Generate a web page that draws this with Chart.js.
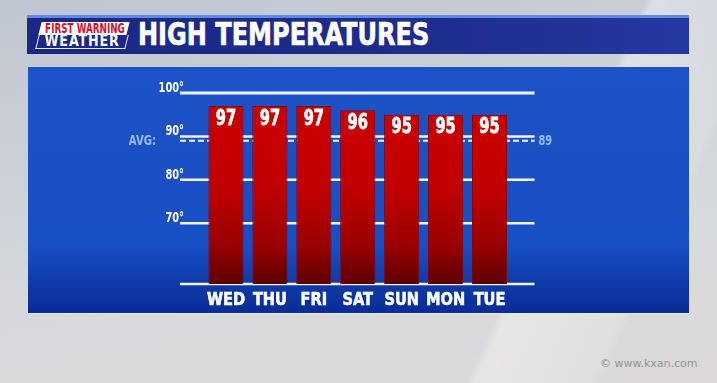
<!DOCTYPE html>
<html>
<head>
<meta charset="utf-8">
<script src="https://cdn.jsdelivr.net/npm/chart.js@4.4.0/dist/chart.umd.min.js"></script>
<style>
  html, body { margin: 0; padding: 0; }
  body {
    width: 717px; height: 383px; overflow: hidden; position: relative;
    background: linear-gradient(170deg, #bfc6d0 0%, #cdd1d7 35%, #d9dadd 70%, #dcd8d8 100%);
    font-family: "DejaVu Sans Condensed", "DejaVu Sans", sans-serif;
  }
  .sheen {
    position: absolute; left: 0; top: 0; width: 717px; height: 383px;
    background: linear-gradient(115deg, rgba(255,255,255,0) 72%, rgba(255,255,255,0.35) 73%, rgba(255,255,255,0.15) 86%, rgba(255,255,255,0) 87%);
  }
  .titlebar {
    position: absolute; left: 27px; top: 15px; width: 662px; height: 36px;
    background: linear-gradient(90deg, #1a2784 0%, #1d2c8e 60%, #2438a2 100%);
    border-top: 3px solid #5c8ae4;
  }
  .title {
    position: absolute; left: 138px; top: 16px; color: #fff; white-space: nowrap;
    font-weight: bold; font-size: 32px; line-height: 36px;
    -webkit-text-stroke: 0.6px #fff;
    transform: scaleX(0.835); transform-origin: left center;
  }
  .logo1 {
    position: absolute; left: 40px; top: 22px; width: 88px; height: 13px;
    background: #fff; transform: skewX(-14deg);
  }
  .logo1 span, .logo2 span {
    position: absolute; left: 0; top: 0; white-space: nowrap; font-weight: bold;
    transform-origin: left top;
  }
  .logo1 span {
    left: 3px; top: -2px; color: #d3122c; font-size: 14px; line-height: 16px;
    transform: skewX(14deg) scaleX(0.7);
  }
  .logo2 {
    position: absolute; left: 37px; top: 35px; width: 88px; height: 13px;
    border: 1px solid #e8ecff; border-top: none; transform: skewX(-14deg);
  }
  .logo2 span {
    left: 4px; top: -3px; color: #fff; font-size: 16px; line-height: 17px; letter-spacing: 1px;
    transform: skewX(14deg) scaleX(0.88);
  }
  .panel {
    position: absolute; left: 28px; top: 67px; width: 661px; height: 246px;
    background: linear-gradient(180deg, #1d53c8 0%, #1b4fc4 55%, #1650c6 72%, #0f3aa8 88%, #0a2b97 100%);
    border-bottom: 1px solid #e9edf5;
  }
  .credit {
    position: absolute; left: 600px; top: 357px; color: #8f949b;
    font-family: "DejaVu Sans", sans-serif; font-size: 11px;
  }
  canvas { position: absolute; left: 0; top: 0; }
</style>
</head>
<body>
<div class="sheen"></div>
<div class="titlebar"></div>
<div class="logo1"><span>FIRST WARNING</span></div>
<div class="logo2"><span>WEATHER</span></div>
<div class="title">HIGH TEMPERATURES</div>
<div class="panel"></div>
<div class="credit">© www.kxan.com</div>
<canvas id="chart" width="717" height="383"></canvas>
<script>
const days = ["WED", "THU", "FRI", "SAT", "SUN", "MON", "TUE"];
const highs = [97, 97, 97, 96, 95, 95, 95];
const gridValues = [100, 90, 80, 70];
const gridLabels = ["100°", "90°", "80°", "70°"];
const average = 89;
const yMin = 56;
const yMax = 100;

const narrow = '"DejaVu Sans Condensed", "DejaVu Sans", sans-serif';

// draw text squeezed horizontally, the broadcast font is much narrower
function squeezed(ctx, text, x, y, sx, heavy) {
  ctx.save();
  ctx.translate(x, y);
  ctx.scale(sx, 1);
  ctx.fillText(text, 0, 0);
  if (heavy) {
    ctx.lineWidth = heavy;
    ctx.strokeStyle = ctx.fillStyle;
    ctx.strokeText(text, 0, 0);
  }
  ctx.restore();
}

// white grid lines, tick labels and the dashed average line, drawn wider than the bar area
const guides = {
  id: "guides",
  beforeDatasetsDraw(chart) {
    const { ctx, chartArea } = chart;
    const y = chart.scales.y;
    const left = chartArea.left - 24;
    const right = chartArea.right + 23;
    ctx.save();
    ctx.strokeStyle = "#f2f5ff";
    gridValues.forEach((v, i) => {
      const py = y.getPixelForValue(v);
      ctx.lineWidth = v === 100 ? 3 : 2.5;
      ctx.beginPath();
      ctx.moveTo(left, py);
      ctx.lineTo(right, py);
      ctx.stroke();
      ctx.fillStyle = "#ffffff";
      ctx.font = "bold 14px " + narrow;
      ctx.textAlign = "right";
      ctx.textBaseline = "alphabetic";
      squeezed(ctx, gridLabels[i], left + 4, py - 1, 0.78);
    });
    // bottom line
    const pb = y.getPixelForValue(yMin);
    ctx.lineWidth = 2.5;
    ctx.beginPath();
    ctx.moveTo(left, pb);
    ctx.lineTo(right, pb);
    ctx.stroke();
    // average
    const pa = y.getPixelForValue(average);
    ctx.setLineDash([6, 3]);
    ctx.lineWidth = 2;
    ctx.beginPath();
    ctx.moveTo(left, pa);
    ctx.lineTo(right, pa);
    ctx.stroke();
    ctx.setLineDash([]);
    ctx.fillStyle = "#9db9f5";
    ctx.font = "bold 14px " + narrow;
    ctx.textBaseline = "middle";
    ctx.textAlign = "right";
    squeezed(ctx, "AVG:", left - 24, pa + 1, 0.8);
    ctx.textAlign = "left";
    squeezed(ctx, String(average), right + 4, pa + 1, 0.78);
    ctx.restore();
  }
};

const labels = {
  id: "labels",
  afterDatasetsDraw(chart) {
    const { ctx, chartArea } = chart;
    const x = chart.scales.x;
    const meta = chart.getDatasetMeta(0);
    ctx.save();
    ctx.fillStyle = "#ffffff";
    ctx.textAlign = "center";
    ctx.textBaseline = "top";
    ctx.font = "bold 22px " + narrow;
    meta.data.forEach((bar, i) => {
      squeezed(ctx, String(highs[i]), bar.x, bar.y + 2, 0.74, 0.8);
    });
    ctx.font = "bold 18px " + narrow;
    ctx.textBaseline = "alphabetic";
    days.forEach((d, i) => {
      squeezed(ctx, d, x.getPixelForTick(i), chartArea.bottom + 21, 0.9, 0.6);
    });
    ctx.restore();
  }
};

new Chart(document.getElementById("chart"), {
  type: "bar",
  data: {
    labels: days,
    datasets: [{
      data: highs,
      backgroundColor(context) {
        const area = context.chart.chartArea;
        if (!area) return "#c00000";
        const g = context.chart.ctx.createLinearGradient(0, area.top, 0, area.bottom);
        g.addColorStop(0, "#cc0000");
        g.addColorStop(0.5, "#c10000");
        g.addColorStop(0.8, "#9a0000");
        g.addColorStop(1, "#5c0000");
        return g;
      },
      borderColor: "#8e0000",
      borderWidth: 1,
      barPercentage: 0.8,
      categoryPercentage: 1
    }]
  },
  options: {
    responsive: false,
    animation: false,
    layout: { padding: { top: 93, left: 204, right: 205.5, bottom: 99 } },
    plugins: { legend: { display: false }, tooltip: { enabled: false } },
    scales: {
      x: { display: false, offset: true },
      y: { display: false, min: yMin, max: yMax }
    }
  },
  plugins: [guides, labels]
});
</script>
</body>
</html>
